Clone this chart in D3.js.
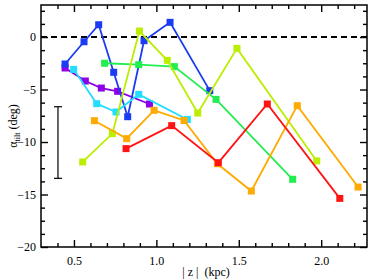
<!DOCTYPE html>
<html>
<head>
<meta charset="utf-8">
<script src="https://cdn.jsdelivr.net/npm/d3@7"></script>
<style>
  body { margin: 0; background: #fff; }
  text { font-family: "Liberation Serif", "DejaVu Serif", serif; font-size: 12px; fill: #000; }
</style>
</head>
<body>
<svg id="chart" width="374" height="280"></svg>
<script>
// series, drawn in this order (later ones on top)
const purpleZ = [0.446, 0.569, 0.666, 0.765, 0.958];
const purpleA = [-2.95, -4.19, -4.86, -5.17, -6.38];

const blueZ = [0.446, 0.561, 0.650, 0.741, 0.826, 0.925, 1.083, 1.324];
const blueA = [-2.57, -0.45, 1.17, -3.36, -7.59, -0.35, 1.40, -5.11];

const cyanZ = [0.498, 0.638, 0.755, 0.893, 1.188];
const cyanA = [-3.08, -6.35, -7.14, -5.46, -7.85];

const greenZ = [0.686, 0.893, 1.109, 1.362, 1.827];
const greenA = [-2.50, -2.63, -2.82, -5.94, -13.55];

const yellowZ = [0.553, 0.733, 0.897, 1.066, 1.251, 1.489, 1.973];
const yellowA = [-11.9, -9.2, 0.57, -2.22, -7.24, -1.08, -11.8];

const orangeZ = [0.624, 0.820, 0.986, 1.168, 1.370, 1.576, 1.855, 2.224];
const orangeA = [-7.97, -9.68, -6.98, -7.95, -12.07, -14.67, -6.54, -14.29];

const redZ = [0.816, 1.093, 1.376, 1.673, 2.113];
const redA = [-10.63, -8.44, -11.97, -6.38, -15.37];

const seriesColors = ['#8c00e6', '#1a3cf2', '#22ddff', '#22ee50', '#bbee00', '#ffaa00', '#ff1414'];

// typical error bar
const errZ = 0.403;
const errA = [-13.46, -6.64];

const xMajor = [0.5, 1.0, 1.5, 2.0];
const xLabels = ['0.5', '1.0', '1.5', '2.0'];
const yMajor = [0, -5, -10, -15, -20];
const yLabels = ['0', '\u22125', '\u221210', '\u221215', '\u221220'];

const margin = {left: 41, top: 5, right: 7, bottom: 33};
const W = 374, H = 280;
const iw = W - margin.left - margin.right;
const ih = H - margin.top - margin.bottom;

const x = d3.scaleLinear().domain([0.3, 2.278]).range([0, iw]);
const y = d3.scaleLinear().domain([-20, 3.05]).range([ih, 0]);

const svg = d3.select('#chart');
const g = svg.append('g').attr('transform', `translate(${margin.left},${margin.top})`);

// zero line
g.append('line')
  .attr('x1', 0).attr('x2', iw)
  .attr('y1', y(0)).attr('y2', y(0))
  .attr('stroke', '#000').attr('stroke-width', 2)
  .attr('stroke-dasharray', '6,4');

// error bar
const eb = g.append('g').attr('stroke', '#000').attr('stroke-width', 1.2);
eb.append('line').attr('x1', x(errZ)).attr('x2', x(errZ)).attr('y1', y(errA[0])).attr('y2', y(errA[1]));
errA.forEach(a => {
  eb.append('line').attr('x1', x(errZ) - 4).attr('x2', x(errZ) + 4).attr('y1', y(a)).attr('y2', y(a));
});

// series
const allSeries = [
  [purpleZ, purpleA], [blueZ, blueA], [cyanZ, cyanA], [greenZ, greenA],
  [yellowZ, yellowA], [orangeZ, orangeA], [redZ, redA]
];
const line = d3.line().x(d => x(d[0])).y(d => y(d[1]));

allSeries.forEach((s, i) => {
  const pts = s[0].map((z, k) => [z, s[1][k]]);
  g.append('path')
    .datum(pts)
    .attr('d', line)
    .attr('fill', 'none')
    .attr('stroke', seriesColors[i])
    .attr('stroke-width', 1.8);
  g.selectAll(null)
    .data(pts)
    .enter().append('rect')
    .attr('x', d => x(d[0]) - 3.5)
    .attr('y', d => y(d[1]) - 3.5)
    .attr('width', 7).attr('height', 7)
    .attr('fill', seriesColors[i]);
});

// axes with inward ticks, mirrored
const xMinor = d3.range(0.4, 2.25, 0.1).filter(v => !xMajor.some(m => Math.abs(m - v) < 1e-6));
const yMinor = d3.range(-20, 3.01, 1.25).filter(v => !yMajor.some(m => Math.abs(m - v) < 1e-6));

function addAxis(axisFn, scale, vals, size, transform, labels) {
  const ax = axisFn(scale).tickValues(vals).tickSizeInner(size).tickSizeOuter(0);
  if (labels) ax.tickFormat((d, i) => labels[i]).tickPadding(8);
  else ax.tickFormat('');
  const a = g.append('g').attr('transform', transform).call(ax);
  a.select('.domain').remove();
  a.selectAll('.tick line').attr('stroke', '#000').attr('stroke-width', 1.4);
  a.selectAll('text').style('font-family', '"Liberation Serif", serif').style('font-size', '12px');
  return a;
}

// bottom
addAxis(d3.axisTop, x, xMajor, 7, `translate(0,${ih})`, null);
addAxis(d3.axisTop, x, xMinor, 4, `translate(0,${ih})`, null);
const bl = g.append('g').attr('transform', `translate(0,${ih})`)
  .call(d3.axisBottom(x).tickValues(xMajor).tickSize(0).tickPadding(9).tickFormat((d, i) => xLabels[i]));
bl.select('.domain').remove();
bl.selectAll('text').style('font-family', '"Liberation Serif", serif').style('font-size', '12px');
// top
addAxis(d3.axisBottom, x, xMajor, 7, 'translate(0,0)', null);
addAxis(d3.axisBottom, x, xMinor, 4, 'translate(0,0)', null);
// left
addAxis(d3.axisRight, y, yMajor, 7, 'translate(0,0)', null);
addAxis(d3.axisRight, y, yMinor, 4, 'translate(0,0)', null);
const ll = g.append('g')
  .call(d3.axisLeft(y).tickValues(yMajor).tickSize(0).tickPadding(5).tickFormat((d, i) => yLabels[i]));
ll.select('.domain').remove();
ll.selectAll('text').style('font-family', '"Liberation Serif", serif').style('font-size', '12px');
// right
addAxis(d3.axisLeft, y, yMajor, 7, `translate(${iw},0)`, null);
addAxis(d3.axisLeft, y, yMinor, 4, `translate(${iw},0)`, null);

// frame
g.append('rect')
  .attr('width', iw).attr('height', ih)
  .attr('fill', 'none').attr('stroke', '#000').attr('stroke-width', 1.5);

// axis titles
svg.append('text')
  .attr('x', margin.left + iw / 2 + 2).attr('y', 276)
  .attr('text-anchor', 'middle')
  .attr('xml:space', 'preserve')
  .text('| z |  (kpc)');

const yt = svg.append('text')
  .attr('transform', `translate(17,${margin.top + ih / 2}) rotate(-90)`)
  .attr('text-anchor', 'middle');
yt.append('tspan').text('\u03b1');
yt.append('tspan').attr('dy', 3).style('font-size', '8px').text('tilt');
yt.append('tspan').attr('dy', -3).text(' (deg)');
</script>
</body>
</html>
